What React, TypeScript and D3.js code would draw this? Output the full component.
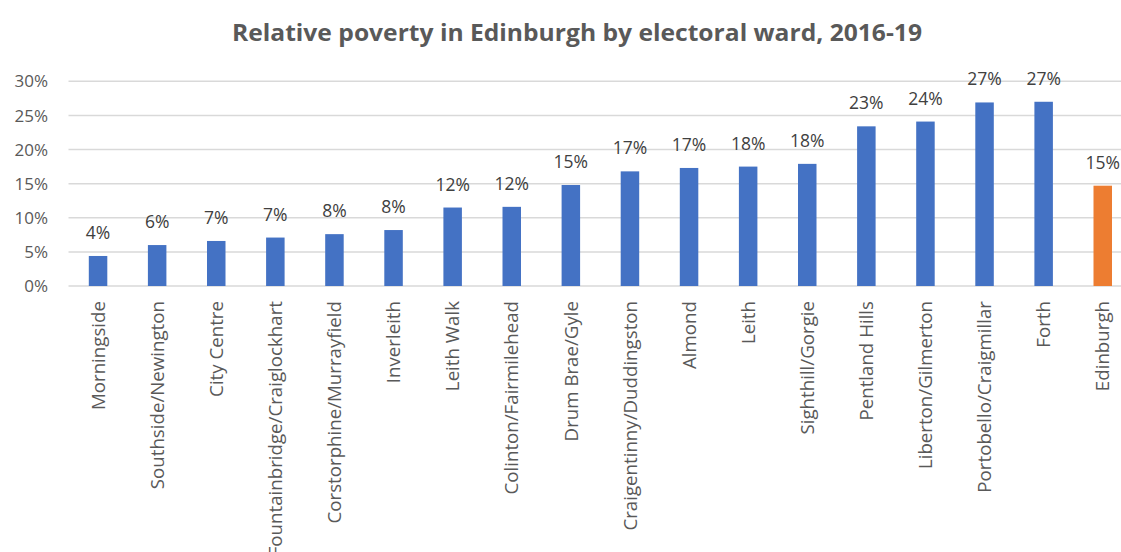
import React from "react";
import * as d3 from "d3";

const categories = [
  "Morningside",
  "Southside/Newington",
  "City Centre",
  "Fountainbridge/Craiglockhart",
  "Corstorphine/Murrayfield",
  "Inverleith",
  "Leith Walk",
  "Colinton/Fairmilehead",
  "Drum Brae/Gyle",
  "Craigentinny/Duddingston",
  "Almond",
  "Leith",
  "Sighthill/Gorgie",
  "Pentland Hills",
  "Liberton/Gilmerton",
  "Portobello/Craigmillar",
  "Forth",
  "Edinburgh",
];

const values = [4.4, 6.0, 6.6, 7.1, 7.6, 8.2, 11.5, 11.6, 14.8, 16.8, 17.3, 17.5, 17.9, 23.4, 24.1, 26.9, 27.0, 14.7];

const yTicks = [0, 5, 10, 15, 20, 25, 30];
const highlight = "Edinburgh";
const title = "Relative poverty in Edinburgh by electoral ward, 2016-19";

const W = 1121;
const H = 552;
const FONT = "'Open Sans', 'DejaVu Sans', sans-serif";

export default function App() {
  const plotLeft = 68.5;
  const step = 59.1;
  const x = d3
    .scaleBand<string>()
    .domain(categories)
    .range([plotLeft, plotLeft + step * categories.length])
    .paddingInner(0.687)
    .paddingOuter(0.3435);
  const y = d3.scaleLinear().domain([0, 30]).range([286, 81.3]);
  const fmt = (v: number) => `${Math.round(v)}%`;

  return (
    <div style={{ position: "absolute", left: 0, top: 0, width: W, height: H, background: "#fff" }}>
      <svg width={W} height={H} style={{ display: "block" }}>
        <rect x={0} y={0} width={W} height={H} fill="#ffffff" />
        <text
          x={577}
          y={41}
          textAnchor="middle"
          fontFamily={FONT}
          fontWeight={700}
          fontSize={24}
          fill="#595959"
          textLength={690}
          lengthAdjust="spacingAndGlyphs"
        >
          {title}
        </text>
        {yTicks.map((t) => (
          <g key={t}>
            <line x1={plotLeft} x2={W} y1={y(t)} y2={y(t)} stroke="#d9d9d9" strokeWidth={1.5} />
            <text
              x={48}
              y={y(t)}
              dy="0.36em"
              textAnchor="end"
              fontFamily={FONT}
              fontSize={17}
              fill="#595959"
            >
              {`${t}%`}
            </text>
          </g>
        ))}
        {categories.map((c, i) => {
          const bx = x(c) as number;
          const bw = x.bandwidth();
          const cx = bx + bw / 2;
          const v = values[i];
          return (
            <g key={c}>
              <rect
                x={bx}
                y={y(v)}
                width={bw}
                height={y(0) - y(v)}
                fill={c === highlight ? "#ed7d31" : "#4472c4"}
              />
              <text
                x={cx}
                y={y(v) - 17}
                textAnchor="middle"
                fontFamily={FONT}
                fontSize={17.5}
                fill="#404040"
              >
                {fmt(v)}
              </text>
              <text
                transform={`translate(${cx},301) rotate(-90)`}
                dy="0.36em"
                textAnchor="end"
                fontFamily={FONT}
                fontSize={18.7}
                fill="#595959"
              >
                {c}
              </text>
            </g>
          );
        })}
      </svg>
    </div>
  );
}
